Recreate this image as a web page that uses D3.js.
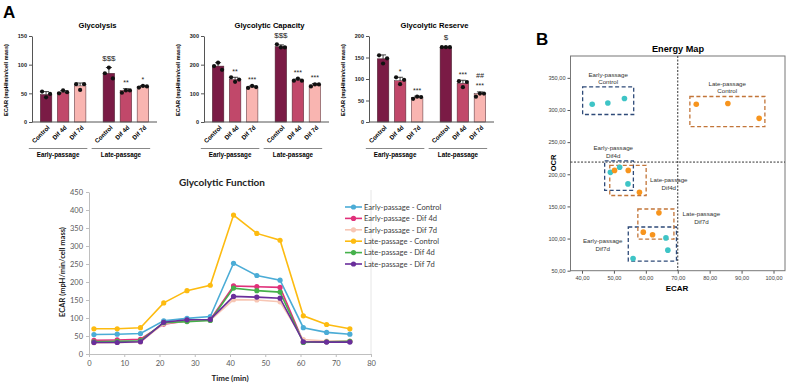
<!DOCTYPE html>
<html lang="en">
<head>
<meta charset="utf-8">
<title>Glycolytic function and energy map</title>
<script src="https://d3js.org/d3.v7.min.js"></script>
<style>
body { margin: 0; background: #fff; }
svg { display: block; }
.bar-axis path, .bar-axis line { stroke: #555; stroke-width: 1; }
.bar-axis text { font-family: "Liberation Sans", Arial, sans-serif; font-size: 5.5px; font-weight: bold; fill: #222; }
.line-axis path, .line-axis line { stroke: #bfbfbf; }
.line-axis text { font-family: Lato, "Open Sans", sans-serif; font-size: 7.5px; fill: #595959; }
.em-axis path { stroke: none; }
.em-axis line { stroke: #555; }
.em-axis text { font-family: "Liberation Sans", Arial, sans-serif; font-size: 5.6px; fill: #444; }
</style>
</head>
<body>
<script>
// ---------- Panel A : bar charts ----------
var groups = ["Early-passage", "Late-passage"];
var conditions = ["Control", "Dif 4d", "Dif 7d"];

// order: early control, early dif4d, early dif7d, late control, late dif4d, late dif7d
var glycolysisMean = [48, 52, 63, 85, 55, 62];
var glycolysisErr = [5, 2.5, 5, 10, 3, 1.5];
var glycolysisPoints = [[53, 43, 49], [50, 55, 52], [66, 56, 66], [85, 95, 76], [51, 55, 55], [60, 63, 62]];
var glycolysisMarks = ["", "", "", "$$$", "**", "*"];

var capacityMean = [195, 148, 122, 263, 146, 129];
var capacityErr = [12, 8, 4, 6, 4, 5];
var capacityPoints = [[195, 207, 182], [156, 140, 148], [119, 126, 122], [271, 260, 260], [144, 151, 144], [124, 131, 131]];
var capacityMarks = ["", "**", "***", "$$$", "***", "***"];

var reserveMean = [147, 96, 57, 174, 90, 66];
var reserveErr = [9, 8, 3, 1, 7, 4];
var reservePoints = [[155, 136, 148], [104, 88, 98], [54, 59, 58], [174, 174, 174], [95, 81, 93], [59, 66, 66]];
var reserveMarks = ["", "*", "***", "$", "***", "***"];
var reserveMarks2 = ["", "", "", "", "", "##"];

// ---------- Panel A : glycolytic function time course ----------
var timeMin = [1.4, 8.0, 14.6, 21.2, 27.8, 34.4, 41.0, 47.6, 54.2, 60.8, 67.4, 74.0];
var earlyControl = [54, 55, 57, 92, 99, 104, 252, 218, 205, 73, 60, 55];
var earlyDif4d = [38, 39, 41, 83, 92, 95, 189, 187, 185, 33, 34, 35];
var earlyDif7d = [31, 32, 33, 85, 91, 94, 151, 150, 145, 40, 36, 36];
var lateControl = [70, 70, 73, 142, 176, 191, 386, 335, 316, 106, 82, 70];
var lateDif4d = [34, 35, 37, 87, 90, 93, 183, 176, 172, 32, 34, 35];
var lateDif7d = [32, 32, 34, 88, 95, 96, 160, 158, 155, 34, 33, 33];
var seriesNames = ["Early-passage - Control", "Early-passage - Dif 4d", "Early-passage - Dif 7d",
                   "Late-passage - Control", "Late-passage - Dif 4d", "Late-passage - Dif 7d"];
var seriesColors = ["#4bacd6", "#e0307a", "#f7c6b4", "#fdbb10", "#45b14b", "#6a2e9b"];
var lineTicksY = [0, 50, 100, 150, 200, 250, 300, 350, 400, 450];
var lineTicksX = [0, 10, 20, 30, 40, 50, 60, 70, 80];

// ---------- Panel B : energy map ----------
var emGroups = ["Early-passage Control", "Late-passage Control", "Early-passage Dif4d",
                "Late-passage Dif4d", "Early-passage Dif7d", "Late-passage Dif7d"];
var emEcar = [[43.2, 48.1, 53.3], [75.8, 85.7, 95.5], [48.9, 51.8, 54.4],
              [50.2, 54.5, 58.0], [56.0, 66.3, 66.9], [59.2, 62.1, 64.1]];
var emOcr = [[309, 311, 318], [309, 310, 287], [203, 211, 185],
             [206, 206, 172], [69, 101, 82], [110, 106, 140]];
// dashed boxes [ecar min, ecar max, ocr min, ocr max]
var emBoxes = [[40.2, 56.2, 293, 336], [73.8, 97.3, 274, 321], [47.1, 56.1, 175, 221],
               [48.7, 60.1, 167, 214], [54.5, 69.6, 65, 118], [57.5, 68.8, 99, 146]];
// label anchor [ecar, ocr] of first line
var emLabelPos = [[48.2, 355], [85.5, 341], [49.8, 241], [67.2, 191], [46.5, 96], [77.4, 138]];
var emTicksX = [40, 50, 60, 70, 80, 90, 100];
var emTicksY = [50, 100, 150, 200, 250, 300, 350];
var emCutEcar = 70;
var emCutOcr = 219;

var barColors = { "Control": "#7a1b45", "Dif 4d": "#c1486a", "Dif 7d": "#f9b5b1" };

var svg = d3.select("body").append("svg")
    .attr("width", 790)
    .attr("height", 385);

var arial = "'Liberation Sans', Arial, sans-serif";

// panel letters
svg.append("text").attr("x", 3).attr("y", 18)
    .attr("font-family", arial).attr("font-size", "17px").attr("font-weight", "bold").text("A");
svg.append("text").attr("x", 536).attr("y", 45)
    .attr("font-family", arial).attr("font-size", "17px").attr("font-weight", "bold").text("B");

drawBarChart(32, "Glycolysis", 150, [0, 50, 100, 150], glycolysisMean, glycolysisErr, glycolysisPoints, glycolysisMarks, null);
drawBarChart(204, "Glycolytic Capacity", 300, [0, 100, 200, 300], capacityMean, capacityErr, capacityPoints, capacityMarks, null);
drawBarChart(369, "Glycolytic Reserve", 200, [0, 50, 100, 150, 200], reserveMean, reserveErr, reservePoints, reserveMarks, reserveMarks2);
drawLineChart();
drawEnergyMap();

function drawBarChart(x0, title, yMax, yTicks, means, errs, points, marks, marks2) {
    var g = svg.append("g").attr("transform", "translate(" + x0 + ",0)");
    var axisLen = 125;

    var yScale = d3.scaleLinear().domain([0, yMax]).range([122, 36]);
    var outer = d3.scaleBand().domain(groups).range([0, axisLen])
        .paddingInner(0.1).paddingOuter(0.045);
    var inner = d3.scaleBand().domain(conditions).range([0, outer.bandwidth()])
        .paddingInner(0.32).paddingOuter(0.32);

    var rows = [];
    groups.forEach(function(grp, gi) {
        conditions.forEach(function(c, ci) {
            var i = gi * 3 + ci;
            rows.push({ group: grp, cond: c, mean: means[i], err: errs[i], pts: points[i],
                        mark: marks[i], mark2: marks2 ? marks2[i] : "" });
        });
    });
    function cx(d) { return outer(d.group) + inner(d.cond) + inner.bandwidth() / 2; }
    function topOf(d) { return yScale(Math.max(d.mean + d.err, d3.max(d.pts))); }

    // title
    g.append("text")
        .attr("x", axisLen / 2 + 3).attr("y", 28)
        .attr("text-anchor", "middle")
        .attr("font-family", arial).attr("font-size", "7.6px").attr("font-weight", "bold")
        .text(title);

    // y axis
    g.append("g").attr("class", "bar-axis")
        .call(d3.axisLeft(yScale).tickValues(yTicks).tickSize(3).tickSizeOuter(0).tickPadding(2));

    g.append("text")
        .attr("transform", "translate(-24," + 80 + ") rotate(-90)")
        .attr("text-anchor", "middle")
        .attr("font-family", arial).attr("font-size", "5.6px").attr("font-weight", "bold")
        .text("ECAR (mpH/min/cell mass)");

    // bars
    g.selectAll("rect.bar").data(rows).enter().append("rect")
        .attr("class", "bar")
        .attr("x", function(d) { return outer(d.group) + inner(d.cond); })
        .attr("y", function(d) { return yScale(d.mean); })
        .attr("width", inner.bandwidth())
        .attr("height", function(d) { return yScale(0) - yScale(d.mean); })
        .attr("fill", function(d) { return barColors[d.cond]; })
        .attr("stroke", "#4a2a33").attr("stroke-width", 0.5);

    // x axis line
    g.append("line")
        .attr("x1", 0).attr("x2", axisLen)
        .attr("y1", yScale(0)).attr("y2", yScale(0))
        .attr("stroke", "#555");

    // error bars
    g.selectAll("line.err").data(rows).enter().append("line")
        .attr("class", "err")
        .attr("x1", cx).attr("x2", cx)
        .attr("y1", function(d) { return yScale(d.mean); })
        .attr("y2", function(d) { return yScale(d.mean + d.err); })
        .attr("stroke", "#111").attr("stroke-width", 0.8);
    g.selectAll("line.cap").data(rows).enter().append("line")
        .attr("class", "cap")
        .attr("x1", function(d) { return cx(d) - 3; })
        .attr("x2", function(d) { return cx(d) + 3; })
        .attr("y1", function(d) { return yScale(d.mean + d.err); })
        .attr("y2", function(d) { return yScale(d.mean + d.err); })
        .attr("stroke", "#111").attr("stroke-width", 0.8);

    // individual points
    var offs = [-4, 0, 4];
    rows.forEach(function(d) {
        g.selectAll(null).data(d.pts).enter().append("circle")
            .attr("cx", function(p, k) { return cx(d) + offs[k]; })
            .attr("cy", function(p) { return yScale(p); })
            .attr("r", 2.1)
            .attr("fill", "#111");
    });

    // significance marks
    g.selectAll("text.mark").data(rows).enter().append("text")
        .attr("class", "mark")
        .attr("x", cx)
        .attr("y", function(d) { return topOf(d) - (d.mark.charAt(0) === "$" ? 6.5 : 3.5); })
        .attr("text-anchor", "middle")
        .attr("font-family", arial)
        .attr("font-size", function(d) { return d.mark.charAt(0) === "$" ? "8px" : "7px"; })
        .attr("fill", "#222")
        .text(function(d) { return d.mark; });
    g.selectAll("text.mark2").data(rows).enter().append("text")
        .attr("class", "mark2")
        .attr("x", cx)
        .attr("y", function(d) { return topOf(d) - 14; })
        .attr("text-anchor", "middle")
        .attr("font-family", arial).attr("font-size", "7px").attr("font-style", "italic")
        .attr("fill", "#222")
        .text(function(d) { return d.mark2; });

    // rotated category labels
    g.selectAll("text.cat").data(rows).enter().append("text")
        .attr("class", "cat")
        .attr("transform", function(d) {
            return "translate(" + (cx(d) + 4) + "," + (yScale(0) + 6) + ") rotate(-45)";
        })
        .attr("text-anchor", "end")
        .attr("font-family", arial).attr("font-size", "6.2px").attr("font-weight", "bold")
        .text(function(d) { return d.cond; });

    // group underlines and labels
    groups.forEach(function(grp) {
        var xa = outer(grp) - 6, xb = outer(grp) + outer.bandwidth() - 4;
        g.append("line")
            .attr("x1", xa).attr("x2", xb).attr("y1", 148.5).attr("y2", 148.5)
            .attr("stroke", "#888").attr("stroke-width", 1);
        g.append("text")
            .attr("x", (xa + xb) / 2).attr("y", 156.5)
            .attr("text-anchor", "middle")
            .attr("font-family", arial).attr("font-size", "6.3px").attr("font-weight", "bold")
            .text(grp);
    });
}

function drawLineChart() {
    var xScale = d3.scaleLinear().domain([0, 80]).range([89, 371]);
    var yScale = d3.scaleLinear().domain([0, 450]).range([354, 192]);
    var allSeries = [earlyControl, earlyDif4d, earlyDif7d, lateControl, lateDif4d, lateDif7d];
    var calibri = "Lato, 'Open Sans', sans-serif";

    svg.append("text")
        .attr("x", 222).attr("y", 186)
        .attr("text-anchor", "middle")
        .attr("font-family", calibri).attr("font-size", "10px").attr("font-weight", "bold")
        .attr("fill", "#222")
        .text("Glycolytic Function");

    // faint right edge of the plot area
    svg.append("line")
        .attr("x1", 371).attr("x2", 371).attr("y1", 190).attr("y2", 354)
        .attr("stroke", "#e6e6e6");

    svg.append("g").attr("class", "line-axis")
        .attr("transform", "translate(" + xScale(0) + ",0)")
        .call(d3.axisLeft(yScale).tickValues(lineTicksY).tickSize(3).tickSizeOuter(0).tickPadding(3));
    svg.append("g").attr("class", "line-axis")
        .attr("transform", "translate(0," + yScale(0) + ")")
        .call(d3.axisBottom(xScale).tickValues(lineTicksX).tickSize(3).tickSizeOuter(0).tickPadding(4));

    svg.append("text")
        .attr("x", 230).attr("y", 381)
        .attr("text-anchor", "middle")
        .attr("font-family", calibri).attr("font-size", "8px").attr("font-weight", "bold")
        .attr("fill", "#222")
        .text("Time (min)");
    svg.append("text")
        .attr("transform", "translate(65,272) rotate(-90)")
        .attr("text-anchor", "middle")
        .attr("font-family", calibri).attr("font-size", "7.5px").attr("font-weight", "bold")
        .attr("fill", "#222")
        .text("ECAR (mpH/min/cell mass)");

    var line = d3.line()
        .x(function(d, i) { return xScale(timeMin[i]); })
        .y(function(d) { return yScale(d); });

    allSeries.forEach(function(vals, s) {
        svg.append("path")
            .attr("d", line(vals))
            .attr("fill", "none")
            .attr("stroke", seriesColors[s])
            .attr("stroke-width", 1.6);
        svg.selectAll(null).data(vals).enter().append("circle")
            .attr("cx", function(d, i) { return xScale(timeMin[i]); })
            .attr("cy", function(d) { return yScale(d); })
            .attr("r", 2.6)
            .attr("fill", seriesColors[s]);
    });

    // legend
    var leg = svg.selectAll("g.leg").data(seriesNames).enter().append("g")
        .attr("class", "leg")
        .attr("transform", function(d, i) { return "translate(345," + (207 + i * 11.4) + ")"; });
    leg.append("line")
        .attr("x1", 0).attr("x2", 17).attr("y1", 0).attr("y2", 0)
        .attr("stroke", function(d, i) { return seriesColors[i]; })
        .attr("stroke-width", 1.6);
    leg.append("circle")
        .attr("cx", 8.5).attr("cy", 0).attr("r", 2.6)
        .attr("fill", function(d, i) { return seriesColors[i]; });
    leg.append("text")
        .attr("x", 19).attr("y", 2.7)
        .attr("font-family", calibri).attr("font-size", "7.6px")
        .attr("fill", "#404040")
        .text(function(d) { return d; });
}

function drawEnergyMap() {
    var xScale = d3.scaleLinear().domain([36.4, 103.6]).range([570.5, 785]);
    var yScale = d3.scaleLinear().domain([50, 384]).range([270.7, 56]);
    var comma = d3.formatLocale({ decimal: ",", thousands: ".", grouping: [3], currency: ["", ""] }).format(".2f");
    var dotColors = ["#3ec4c6", "#f7941d", "#3ec4c6", "#f7941d", "#3ec4c6", "#f7941d"];
    var boxColors = ["#2e4a78", "#c27539", "#2e4a78", "#c27539", "#2e4a78", "#c27539"];

    svg.append("text")
        .attr("x", 678).attr("y", 52)
        .attr("text-anchor", "middle")
        .attr("font-family", arial).attr("font-size", "9.2px").attr("font-weight", "bold")
        .text("Energy Map");

    svg.append("g").attr("class", "em-axis")
        .attr("transform", "translate(" + xScale.range()[0] + ",0)")
        .call(d3.axisLeft(yScale).tickValues(emTicksY).tickFormat(comma).tickSize(3).tickPadding(2));
    svg.append("g").attr("class", "em-axis")
        .attr("transform", "translate(0," + yScale.range()[0] + ")")
        .call(d3.axisBottom(xScale).tickValues(emTicksX).tickFormat(comma).tickSize(3).tickPadding(2));

    // plot frame
    svg.append("rect")
        .attr("x", xScale.range()[0]).attr("y", yScale.range()[1])
        .attr("width", xScale.range()[1] - xScale.range()[0])
        .attr("height", yScale.range()[0] - yScale.range()[1])
        .attr("fill", "none").attr("stroke", "#777").attr("stroke-width", 1);

    svg.append("text")
        .attr("x", 677).attr("y", 291)
        .attr("text-anchor", "middle")
        .attr("font-family", arial).attr("font-size", "8px").attr("font-weight", "bold")
        .text("ECAR");
    svg.append("text")
        .attr("transform", "translate(556,163) rotate(-90)")
        .attr("text-anchor", "middle")
        .attr("font-family", arial).attr("font-size", "7.5px").attr("font-weight", "bold")
        .text("OCR");

    // quadrant lines
    svg.append("line")
        .attr("x1", xScale(emCutEcar)).attr("x2", xScale(emCutEcar))
        .attr("y1", yScale.range()[1]).attr("y2", yScale.range()[0])
        .attr("stroke", "#333").attr("stroke-width", 1).attr("stroke-dasharray", "2,1.5");
    svg.append("line")
        .attr("x1", xScale.range()[0]).attr("x2", xScale.range()[1])
        .attr("y1", yScale(emCutOcr)).attr("y2", yScale(emCutOcr))
        .attr("stroke", "#333").attr("stroke-width", 1).attr("stroke-dasharray", "2,1.5");

    // dashed group boxes
    svg.selectAll("rect.box").data(emBoxes).enter().append("rect")
        .attr("class", "box")
        .attr("x", function(b) { return xScale(b[0]); })
        .attr("y", function(b) { return yScale(b[3]); })
        .attr("width", function(b) { return xScale(b[1]) - xScale(b[0]); })
        .attr("height", function(b) { return yScale(b[2]) - yScale(b[3]); })
        .attr("fill", "none")
        .attr("stroke", function(b, i) { return boxColors[i]; })
        .attr("stroke-width", 1.3)
        .attr("stroke-dasharray", "4,2.5");

    // points
    emGroups.forEach(function(name, gi) {
        svg.selectAll(null).data(emEcar[gi]).enter().append("circle")
            .attr("cx", function(d) { return xScale(d); })
            .attr("cy", function(d, k) { return yScale(emOcr[gi][k]); })
            .attr("r", 2.8)
            .attr("fill", dotColors[gi]);
    });

    // group labels
    var labs = svg.selectAll("text.emlab").data(emGroups).enter().append("text")
        .attr("class", "emlab")
        .attr("text-anchor", "middle")
        .attr("font-family", arial).attr("font-size", "6.2px")
        .attr("fill", "#333");
    labs.append("tspan")
        .attr("x", function(d, i) { return xScale(emLabelPos[i][0]); })
        .attr("y", function(d, i) { return yScale(emLabelPos[i][1]) + 2; })
        .text(function(d) { return d.split(" ")[0]; });
    labs.append("tspan")
        .attr("x", function(d, i) { return xScale(emLabelPos[i][0]); })
        .attr("dy", 7.8)
        .text(function(d) { return d.split(" ")[1]; });
}
</script>
</body>
</html>
